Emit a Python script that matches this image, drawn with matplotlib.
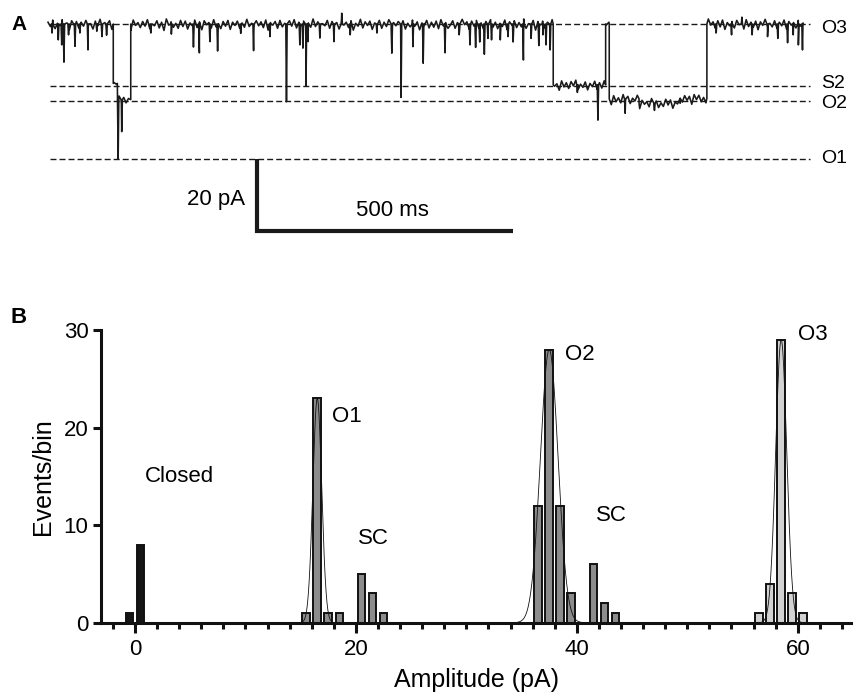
import numpy as np
import matplotlib
matplotlib.use("Agg")
import matplotlib.pyplot as plt

plt.rcParams['font.family'] = ['Liberation Sans', 'DejaVu Sans']

# ---------------- Panel A data (time in ms, current in pA, O3 = 0) ----------------
level_names = ["O3", "S2", "O2", "O1"]
level_values = [0.0, -17.2, -21.4, -37.5]
level_label_dy = [-6.7, -1.6, -5.0, -2.9]  # label baseline offsets (points)

seg_start = [0, 127, 135, 161, 983, 1085, 1092, 1150, 1230, 1282]
seg_end = [127, 135, 161, 983, 1085, 1092, 1150, 1230, 1282, 1469]
seg_level = [0.0, -16.5, -21.0, 0.0, -16.9, 0.0, -20.8, -22.0, -20.6, 0.0]

spike_t = [8, 20, 26.7, 31, 40, 52.5, 62, 77.8, 95, 105, 114, 136.5, 143.4,
           200, 240, 283, 294.5, 315, 330, 375, 400, 432, 464, 490, 496, 502,
           506, 529, 556.5, 571.5, 588, 640, 669, 687, 710, 730, 772.5, 800,
           821, 832, 840, 849, 856, 863, 880, 895, 905, 925, 940, 955, 963,
           969, 977, 1030, 1070, 1123, 1180, 1300, 1330, 1350, 1370, 1400,
           1420, 1439, 1450, 1460, 1468]
spike_i = [-2.5, -4.4, -5.8, -10.6, -3.0, -6.2, -2.5, -7.2, -2.0, -3.5, -3.1,
           -37.5, -29.9, -2.5, -2.8, -6.4, -8.0, -4.9, -7.5, -2.6, -7.4, -3.5,
           -21.6, -5.8, -6.7, -17.2, -4.9, -3.9, -4.9, 3.0, -3.0, -2.5, -8.1,
           -20.4, -6.3, -10.9, -8.0, -3.0, -5.8, -6.5, -5.0, -8.4, -4.0, -4.4,
           -4.4, -3.5, -5.0, -10.0, -4.0, -6.0, -3.0, -5.8, -7.2, -19.0, -26.7,
           -24.8, -24.0, -2.5, -3.0, 1.9, -3.0, -3.5, -4.0, -5.2, -3.0, -5.8, -7.2]

noise = [0.5, -0.7, 1.1, -1.3, 0.2, -0.4, 1.2, -0.9, 0.3, -1.6,
         0.9, -0.2, 0.7, -1.1, 0.5, -0.6, 1.0, -0.8, 0.1, -1.4,
         0.8, -0.5, 1.3, -1.0, 0.4, -0.8, 0.9, -1.5, 0.2, -0.3,
         1.0, -1.2, 0.6, -0.9, 0.3, -1.7, 1.1, -0.4, 0.4, -1.0,
         0.7, -0.6, 1.2, -1.3, 0.0, -0.5, 0.9, -1.1, 0.5, -1.8,
         1.4, -0.3, 0.6, -0.9, 0.2, -1.2, 1.0, -0.7, 0.8, -1.4,
         0.3, -0.5, 1.1, -1.0, 0.6, -1.6, 0.9, -0.2, 0.4, -1.1,
         1.2, -0.8, 0.1, -1.3, 0.7, -0.6, 1.0, -1.5, 0.5, -0.4,
         0.8, -1.2, 0.3, -0.9, 1.3, -0.7, 0.2, -1.4, 0.9, -0.5,
         0.6, -1.0, 1.1, -1.7, 0.4, -0.3, 0.7, -1.2, 1.0, -0.8,
         0.2, -1.5, 0.9, -0.6, 1.2, -1.1, 0.5, -0.4, 0.8, -1.3,
         0.3, -0.9, 1.4, -0.7, 0.6, -1.6, 0.1, -0.5, 1.0, -1.2,
         0.7, -0.8, 0.4, -1.4, 1.1, -0.3, 0.5, -1.0, 0.9, -1.7,
         0.2, -0.6, 1.3, -1.1, 0.6, -0.4, 0.8, -1.5, 0.3, -0.9,
         1.0, -1.2, 0.5, -0.7, 1.2, -1.3, 0.4, -0.5, 0.7, -1.0,
         0.9, -1.4, 0.2, -0.8, 1.1, -0.6, 0.6, -1.6, 0.3, -0.4,
         1.0, -1.1, 0.5, -0.9, 0.8, -1.3, 1.2, -0.5, 0.4, -1.2,
         -0.3, 0.9, -1.2, 0.4, -0.8, 1.3, -0.2, 0.6, -1.5, 0.8,
         -0.6, 1.0, -1.1, 0.3, -1.4, 0.7, -0.4, 1.2, -0.9, 0.5,
         -1.3, 0.2, -0.7, 1.1, -1.6, 0.6, -0.3, 0.9, -1.0, 0.4,
         -0.8, 1.4, -1.2, 0.1, -0.5, 1.0, -1.7, 0.7, -0.2, 0.8,
         -1.1, 0.5, -0.9, 1.2, -0.4, 0.3, -1.5, 1.1, -0.6, 0.6,
         -1.0, 0.9, -0.3, 1.3, -1.3, 0.2, -0.7, 0.8, -1.4, 0.4,
         -0.5, 1.0, -1.2, 0.6, -0.9, 1.1, -0.2, 0.5, -1.6, 0.9,
         -0.8, 0.3, -1.1, 1.2, -0.4, 0.7, -1.3, 0.2, -0.6, 1.0,
         -1.5, 0.8, -0.3, 0.4, -1.0, 1.3, -0.7, 0.6, -1.2, 0.1,
         -0.9, 1.1, -0.5, 0.9, -1.4, 0.3, -0.2, 1.2, -1.1, 0.7,
         -0.6, 0.5, -1.7, 1.0, -0.4, 0.8, -1.0, 0.2, -1.3, 1.4,
         -0.3, 0.6, -1.2, 0.9, -0.8, 1.1, -1.5, 0.4, -0.5, 0.7,
         -1.1, 1.0, -0.2, 0.3, -1.4, 1.2, -0.7, 0.5, -0.9, 0.8,
         -1.6, 0.6, -0.4, 1.3, -1.0, 0.2, -0.8, 0.9, -1.2, 0.5,
         -0.5, 1.1, -1.3, 0.7, -0.3, 0.4, -1.1, 1.0, -0.6, 0.3]

scale_ms = 500
scale_pA = 20

# ---------------- Panel B data ----------------
bin_centers = [-0.5, 0.5, 15.5, 16.5, 17.5, 18.5, 20.5, 21.5, 22.5,
               36.5, 37.5, 38.5, 39.5, 41.5, 42.5, 43.5,
               56.5, 57.5, 58.5, 59.5, 60.5]
counts = [1, 8, 1, 23, 1, 1, 5, 3, 1,
          12, 28, 12, 3, 6, 2, 1,
          1, 4, 29, 3, 1]
bar_group = ["closed", "closed", "mid", "mid", "mid", "mid", "mid", "mid", "mid",
             "mid", "mid", "mid", "mid", "mid", "mid", "mid",
             "light", "light", "light", "light", "light"]
fit_mu = [16.5, 37.5, 58.5]
fit_amp = [23, 28, 29]
fit_sd = [0.4, 0.8, 0.5]

peak_labels = ["Closed", "O1", "SC", "O2", "SC", "O3"]
peak_label_x = [0.9, 17.8, 20.2, 38.9, 41.7, 60.0]
peak_label_y = [14.4, 20.6, 8.07, 26.9, 10.45, 28.97]

group_colors = {"closed": "#151515", "mid": "#8c8c8c", "light": "#d2d2d2"}

W, H = 854, 698
fig = plt.figure(figsize=(W / 100, H / 100), dpi=100)


def fx(px):
    return px / W


def fy(py):
    return 1 - py / H


# ---------------- Panel A ----------------
axA = fig.add_axes([fx(48), fy(240), (803 - 48) / W, 230 / H])
axA.set_xlim(0, 1469)
axA.set_ylim(-60, 3.89)
axA.axis("off")


def level_at(t):
    for a, b, l in zip(seg_start, seg_end, seg_level):
        if a <= t < b:
            return l
    return seg_level[-1]


pts = []
noise_t = np.linspace(0, 1469, len(noise))
for t, n in zip(noise_t, noise):
    pts.append((t, level_at(t) + n))
for k in range(len(seg_start) - 1):
    b = seg_end[k]
    pts.append((b - 0.01, seg_level[k]))
    pts.append((b + 0.01, seg_level[k + 1]))
for t, v in zip(spike_t, spike_i):
    base = level_at(t)
    pts.append((t - 1.3, base))
    pts.append((t, v))
    pts.append((t + 1.3, base))
pts.sort(key=lambda p: p[0])
tt = [p[0] for p in pts]
ii = [p[1] for p in pts]
axA.plot(tt, ii, color="#1a1a1a", lw=1.15, clip_on=False, zorder=3)

for name, v, dy in zip(level_names, level_values, level_label_dy):
    axA.plot([4, 1483], [v, v], color="#1a1a1a", lw=1.0,
             dashes=(4.3, 2.2), clip_on=False, zorder=2)
    axA.annotate(name, xy=(1483, v), xytext=(8, dy), textcoords="offset points",
                 ha="left", va="baseline", fontsize=14, annotation_clip=False)

sb_t0, sb_i0 = 405.7, -57.4
axA.plot([sb_t0, sb_t0, sb_t0 + scale_ms], [sb_i0 + scale_pA, sb_i0, sb_i0],
         color="#1a1a1a", lw=3.0, solid_joinstyle="miter", solid_capstyle="butt",
         clip_on=False)
axA.text(sb_t0 - 22, -50.3, f"{scale_pA} pA", ha="right", va="baseline", fontsize=16)
axA.text(599, -53.3, f"{scale_ms} ms", ha="left", va="baseline", fontsize=16)

fig.text(fx(11), fy(30), "A", fontsize=15, fontweight="bold", ha="left", va="baseline")

# ---------------- Panel B ----------------
axB = fig.add_axes([fx(101), fy(622.7), (853 - 101) / W, (622.7 - 330) / H])
axB.set_xlim(-3.08, 65.0)
axB.set_ylim(0, 30)

cols = [group_colors[g] for g in bar_group]
axB.bar(bin_centers, counts, width=0.7, color=cols, edgecolor="#111111",
        linewidth=1.4, zorder=2)

for mu, amp, sd in zip(fit_mu, fit_amp, fit_sd):
    xs = np.linspace(mu - 4.5 * sd, mu + 4.5 * sd, 200)
    axB.plot(xs, amp * np.exp(-0.5 * ((xs - mu) / sd) ** 2), color="#111111",
             lw=0.6, zorder=3)

for s, x, y in zip(peak_labels, peak_label_x, peak_label_y):
    axB.text(x, y, s, ha="left", va="baseline", fontsize=16)

for side in ["top", "right"]:
    axB.spines[side].set_visible(False)
for side in ["left", "bottom"]:
    axB.spines[side].set_linewidth(2.2)
    axB.spines[side].set_color("#111111")
    axB.spines[side].set_zorder(4)

axB.set_yticks([0, 10, 20, 30])
axB.set_xticks([0, 20, 40, 60])
axB.set_xticks([v for v in range(-2, 65, 2) if v % 20 != 0], minor=True)
axB.tick_params(axis="y", which="major", length=6, width=2.2, labelsize=16, pad=3,
                color="#111111")
axB.tick_params(axis="x", which="major", length=7.5, width=2.2, labelsize=16, pad=4,
                color="#111111")
axB.tick_params(axis="x", which="minor", length=4.5, width=2.2, color="#111111")
axB.set_xlabel("Amplitude (pA)", fontsize=18, labelpad=6)
axB.set_ylabel("Events/bin", fontsize=18, labelpad=6)

fig.text(fx(11), fy(323), "B", fontsize=16, fontweight="bold", ha="left", va="baseline")

fig.savefig("out.png", dpi=100)
